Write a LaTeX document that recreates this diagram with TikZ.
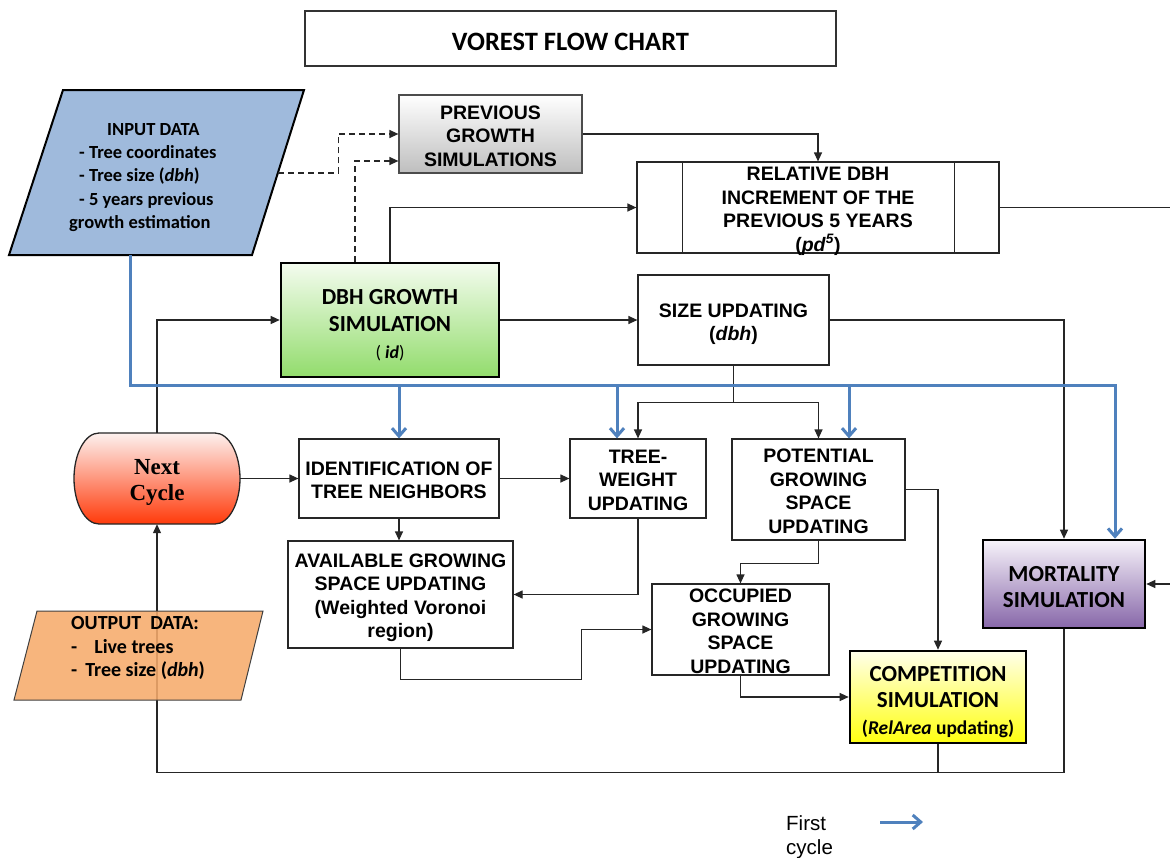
\documentclass[tikz,border=0pt]{standalone}
\usepackage{fontspec}
\setmainfont{Liberation Sans}
\newfontfamily\cali{Carlito}
\newfontfamily\camb{Liberation Serif}
\usetikzlibrary{arrows.meta,calc}
\definecolor{inblue}{HTML}{9FBADC}
\definecolor{outorange}{HTML}{F6AB6C}
\definecolor{prevgray}{HTML}{BEBEBE}
\definecolor{dbhtop}{HTML}{F4FCEF}
\definecolor{dbhbot}{HTML}{92DC6C}
\definecolor{nexttop}{HTML}{FDF1EF}
\definecolor{nextbot}{HTML}{FF3A0A}
\definecolor{comptop}{HTML}{FFFFEA}
\definecolor{compbot}{HTML}{FFFF10}
\definecolor{morttop}{HTML}{F7F3FA}
\definecolor{mortbot}{HTML}{8767A9}
\definecolor{fcblue}{HTML}{4F81BD}
\begin{document}
\begin{tikzpicture}[x=1pt,y=-1pt,
  box/.style={draw=black!85, line width=1.2pt, inner sep=0pt},
  thickbox/.style={box, draw=black, line width=2.6pt},
  txt/.style={inner sep=0pt, align=center, font=\bfseries\fontsize{19.5}{23.5}\selectfont},
  caltxt/.style={inner sep=0pt, align=center, font=\cali\bfseries\fontsize{23}{26.5}\selectfont},
  plain/.style={line width=1.2pt, draw=black!85},
  conn/.style={plain, -{Triangle[length=9pt,width=8pt]}},
  dconn/.style={conn, dash pattern=on 6pt off 4pt},
  blueln/.style={draw=fcblue, line width=3pt},
  bluearr/.style={blueln, -{Straight Barb[length=8pt,width=14pt]}},
  datatext/.style={inner sep=0pt, align=left, anchor=west}
]
\useasboundingbox (0,0) rectangle (1170,857);
\fill[white] (0,0) rectangle (1170,857);

% title
\node[box, draw=black!80, minimum width=531, minimum height=55] (title) at (570.5,38.5) {};
\node[caltxt, font=\cali\bfseries\fontsize{26.5}{30}\selectfont] (title-t) at ($(title)+(0,3.5)$) {VOREST FLOW CHART};

% input data
\path[draw=black, line width=2pt, fill=inblue] (63,90) -- (304,90) -- (252,255) -- (9,255) -- cycle;
\node[datatext, font=\cali\bfseries\fontsize{18.5}{23.3}\selectfont] (input) at (69,177.5)
  {\hspace*{38pt}INPUT DATA\\\hspace*{10pt}- Tree coordinates\\\hspace*{10pt}- Tree size (\textit{dbh})\\\hspace*{10pt}- 5 years previous\\growth estimation};
\coordinate (inR) at (278,173);
\coordinate (inB) at (130,255);

% boxes
\node[box, draw=black!70, minimum width=183, minimum height=78, top color=white, bottom color=prevgray] (prev) at (490.5,134) {};
\node[txt] (prev-t) at ($(prev)+(0,2)$) {PREVIOUS\\GROWTH\\SIMULATIONS};

\node[box, minimum width=362, minimum height=91] (rel) at (818,207.5) {};
\node[txt] (rel-t) at ($(rel)+(0,4)$) {RELATIVE DBH\\INCREMENT OF THE\\PREVIOUS 5 YEARS\\(\textit{pd}\textsuperscript{\textit{5}})};
\draw[plain] ($(rel.north west)+(46,0)$) -- ($(rel.south west)+(46,0)$);
\draw[plain] ($(rel.north east)+(-45,0)$) -- ($(rel.south east)+(-45,0)$);

\node[thickbox, minimum width=218, minimum height=114, top color=dbhtop, bottom color=dbhbot] (dbh) at (390,320) {};
\node[caltxt, font=\cali\bfseries\fontsize{23}{27}\selectfont] (dbh-t) at ($(dbh)+(0,5)$)
  {DBH GROWTH\\SIMULATION\\{\fontsize{18}{27}\selectfont\mdseries ( \textbf{\textit{id}})}};

\node[box, minimum width=191, minimum height=90] (size) at (733.5,320) {};
\node[txt] (size-t) at ($(size)+(0,4)$) {SIZE UPDATING\\(\textit{dbh})};

% next cycle
\path[draw=black!85, line width=1.3pt, top color=nexttop, bottom color=nextbot]
  (99,433) -- (215,433) .. controls (228.8,433) and (240,453.4) .. (240,478.5)
  .. controls (240,503.6) and (228.8,524) .. (215,524) -- (99,524)
  .. controls (85.2,524) and (74,503.6) .. (74,478.5)
  .. controls (74,453.4) and (85.2,433) .. (99,433) -- cycle;
\node[inner sep=0pt, minimum width=166, minimum height=91] (next) at (157,478.5) {};
\node[inner sep=0pt, align=center, font=\camb\bfseries\fontsize{23}{26.5}\selectfont] (next-t) at ($(next)+(0,4)$) {Next\\Cycle};

\node[box, minimum width=200, minimum height=79] (ident) at (399,478.5) {};
\node[txt] (ident-t) at ($(ident)+(0,2)$) {IDENTIFICATION OF\\TREE NEIGHBORS};

\node[box, minimum width=136, minimum height=79] (tw) at (638,478.5) {};
\node[txt] (tw-t) at ($(tw)+(0,1.5)$) {TREE-\\WEIGHT\\UPDATING};

\node[box, minimum width=173, minimum height=101] (pot) at (818.5,489.5) {};
\node[txt] (pot-t) at ($(pot)+(0,2)$) {POTENTIAL\\GROWING\\SPACE\\UPDATING};

\node[box, minimum width=225, minimum height=107] (avail) at (400.5,594.5) {};
\node[txt] (avail-t) at ($(avail)+(0,3)$) {AVAILABLE GROWING\\SPACE UPDATING\\(Weighted Voronoi\\region)};

\node[box, minimum width=177, minimum height=91] (occ) at (740.5,629.5) {};
\node[txt] (occ-t) at ($(occ)+(0,2)$) {OCCUPIED\\GROWING\\SPACE\\UPDATING};

\node[thickbox, minimum width=176, minimum height=92, top color=comptop, bottom color=compbot] (comp) at (938,697) {};
\node[caltxt] (comp-t) at ($(comp)+(0,5)$)
  {COMPETITION\\SIMULATION\\{\fontsize{19.5}{26.5}\selectfont(\textit{RelArea} updating)}};

\node[thickbox, minimum width=162, minimum height=88, top color=morttop, bottom color=mortbot] (mort) at (1064,584) {};
\node[caltxt] (mort-t) at ($(mort)+(0,3)$) {MORTALITY\\SIMULATION};

\coordinate (offA) at (1170,207.5);
\coordinate (offB) at (1170,584);

% black connectors
\draw[dconn] (inR) -| ($(prev.west)+(-60,0)$) -- (prev.west);
\draw[dconn] ($(dbh.north)+(-35,0)$) |- ($(prev.west)+(0,27)$);
\draw[conn] (prev.east) -| (rel.north);
\draw[conn] (dbh.north) |- (rel.west);
\draw[plain] (rel.east) -- (offA);
\draw[conn] (offB) -- (mort.east);
\draw[conn] (dbh.east) -- (size.west);
\draw[conn] (size.east) -| (mort.north);
\draw[plain] (size.south) -- ++(0,37) coordinate (br);
\draw[conn] (br) -| (tw.north);
\draw[conn] (br) -| (pot.north);
\draw[conn] (next.north) |- (dbh.west);
\draw[conn] (next.east) -- (ident.west);
\draw[conn] (ident.east) -- (tw.west);
\draw[conn] (ident.south) -- (ident.south |- avail.north);
\draw[conn] (tw.south) |- (avail.east);
\draw[conn] (pot.south) -- ++(0,23) -| (occ.north);
\draw[conn] (pot.east) -| (comp.north);
\draw[conn] (avail.south) -- ++(0,31) -| ($(occ.west)+(-70,0)$) -- (occ.west);
\draw[conn] (occ.south) |- (comp.west);
\draw[conn] (comp.south) -- ++(0,28) coordinate (lp) -| (next.south);
\draw[plain] (mort.south) |- (lp);

% blue first-cycle lines
\coordinate (bl) at (130,385);
\coordinate (twb) at ($(tw.north)+(-21,0)$);
\coordinate (potb) at ($(pot.north)+(30.5,0)$);
\coordinate (mortb) at ($(mort.north)+(51,0)$);
\draw[bluearr] (inB) -- (bl) -| (mortb);
\draw[bluearr] (ident.north |- bl) -- (ident.north);
\draw[bluearr] (twb |- bl) -- (twb);
\draw[bluearr] (potb |- bl) -- (potb);

% output data
\path[draw=black!75, line width=1pt, fill=outorange, fill opacity=0.88] (37,611) -- (263,611) -- (241,700) -- (14,700) -- cycle;
\node[datatext, font=\cali\bfseries\fontsize{20}{23.5}\selectfont] (output) at (71,648)
  {OUTPUT\ \ DATA:\\-\hspace{17pt}Live trees\\-\hspace{8pt}Tree size (\textit{dbh})};

% legend
\node[inner sep=0pt, anchor=west, align=left, font=\fontsize{20.5}{24}\selectfont] (legend) at (786,837)
  {First\\cycle};
\coordinate (lgA) at (880,822);
\coordinate (lgB) at (923,822);
\draw[bluearr] (lgA) -- (lgB);
\end{tikzpicture}
\end{document}
